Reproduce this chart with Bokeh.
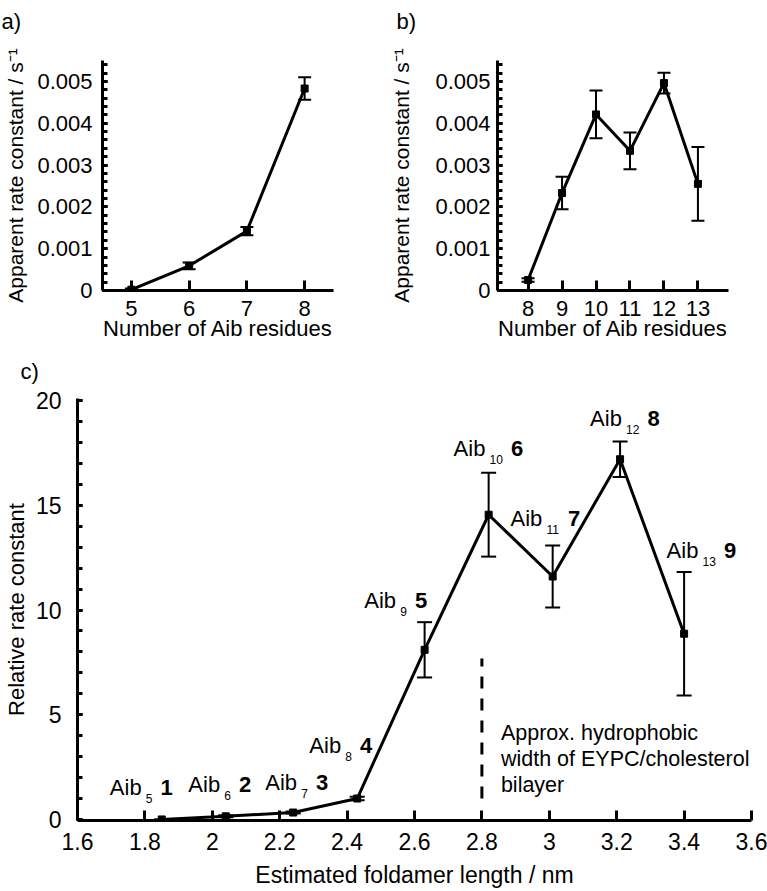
from bokeh.plotting import figure
from bokeh.models import FixedTicker, Range1d
from bokeh.layouts import column, row
from bokeh.embed import file_html
from bokeh.resources import INLINE
from bokeh.core.properties import value

FONT = "Liberation Sans"

# ---------------- data ----------------
# a) apparent rate constant vs number of Aib residues
a_residues = [5, 6, 7, 8]
a_rate = [0.00002, 0.00059, 0.00142, 0.00483]
a_err = [0.00003, 0.00008, 0.00010, 0.00027]

# b) apparent rate constant vs number of Aib residues
b_residues = [8, 9, 10, 11, 12, 13]
b_rate = [0.00025, 0.00233, 0.00421, 0.00334, 0.00496, 0.00255]
b_err = [0.00004, 0.00039, 0.00057, 0.00044, 0.00025, 0.00088]

# c) relative rate constant vs estimated foldamer length
c_length = [1.85, 2.04, 2.24, 2.43, 2.63, 2.82, 3.01, 3.21, 3.40]
c_rel = [0.0, 0.15, 0.33, 1.0, 8.1, 14.55, 11.6, 17.2, 8.87]
c_err = [0.0, 0.05, 0.05, 0.08, 1.32, 2.0, 1.48, 0.85, 2.95]
c_aib_sub = ["5", "6", "7", "8", "9", "10", "11", "12", "13"]
c_compound = ["1", "2", "3", "4", "5", "6", "7", "8", "9"]
# label anchors (data coordinates, left/baseline of "Aib")
c_label_x = [1.696, 1.929, 2.157, 2.288, 2.451, 2.716, 2.885, 3.121, 3.348]
c_label_y = [1.51, 1.69, 1.77, 3.51, 10.47, 17.72, 14.36, 19.15, 12.84]

bilayer_x = 2.8
bilayer_y0 = 1.0
bilayer_y1 = 7.68
note_lines = ["Approx. hydrophobic", "width of EYPC/cholesterol", "bilayer"]
note_y = 4.15

# ticks
ab_y_ticks = [0, 0.001, 0.002, 0.003, 0.004, 0.005]
ab_y_labels = ["0", "0.001", "0.002", "0.003", "0.004", "0.005"]
a_x_ticks = [5, 6, 7, 8]
a_x_labels = ["5", "6", "7", "8"]
b_x_ticks = [8, 9, 10, 11, 12, 13]
b_x_labels = ["8", "9", "10", "11", "12", "13"]
c_x_ticks = [1.6, 1.8, 2.0, 2.2, 2.4, 2.6, 2.8, 3.0, 3.2, 3.4, 3.6]
c_x_labels = ["1.6", "1.8", "2", "2.2", "2.4", "2.6", "2.8", "3", "3.2", "3.4", "3.6"]
c_y_ticks = [0, 5, 10, 15, 20]
c_y_labels = ["0", "5", "10", "15", "20"]

ab_ylabel = "Apparent rate constant / s\u207b\u00b9"
ab_xlabel = "Number of Aib residues"
c_ylabel = "Relative rate constant"
c_xlabel = "Estimated foldamer length / nm"

AB_X = {"a": (4.5, 8.5), "b": (7.1, 13.9)}
AB_Y = (0, 0.0055)
C_X = (1.6, 3.6)
C_Y = (-0.05, 20.1)


def style(p, fs, xt, xl, yt, yl, ymin, xstand, ystand, xlab, ylab, xls, yls, yfs, xfs):
    p.outline_line_color = None
    p.xgrid.visible = False
    p.ygrid.visible = False
    p.background_fill_color = "white"
    p.border_fill_color = "white"
    for ax in (p.xaxis[0], p.yaxis[0]):
        ax.axis_line_width = 3
        ax.axis_line_color = "black"
        ax.major_tick_out = 0
        ax.major_tick_line_width = 3
        ax.major_tick_line_color = "black"
        ax.minor_tick_out = 0
        ax.minor_tick_line_width = 3
        ax.minor_tick_line_color = "black"
        ax.major_label_text_font = FONT
        ax.major_label_text_font_size = fs
        ax.major_label_text_color = "black"
        ax.axis_label_text_font = FONT
        ax.axis_label_text_font_style = "normal"
        ax.axis_label_text_color = "black"
    p.xaxis.ticker = FixedTicker(ticks=xt, minor_ticks=[])
    p.xaxis.major_label_overrides = dict(zip(xt, xl))
    p.xaxis.major_tick_in = 10
    p.xaxis.major_label_standoff = xstand
    p.xaxis.axis_label = xlab
    p.xaxis.axis_label_standoff = xls
    p.xaxis.axis_label_text_font_size = xfs
    p.yaxis.ticker = FixedTicker(ticks=yt, minor_ticks=ymin)
    p.yaxis.major_label_overrides = dict(zip(yt, yl))
    p.yaxis.major_tick_in = 5
    p.yaxis.minor_tick_in = 5
    p.yaxis.major_label_standoff = ystand
    p.yaxis.axis_label = ylab
    p.yaxis.axis_label_standoff = yls
    p.yaxis.axis_label_text_font_size = yfs


def panel_title(p, offset, standoff):
    t = p.title
    t.align = "left"
    t.offset = offset
    t.standoff = standoff
    t.vertical_align = "top"
    t.text_font = FONT
    t.text_font_size = "22px"
    t.text_font_style = "normal"
    t.text_color = "black"


def series(p, x, y, e, cap):
    lo = [v - d for v, d in zip(y, e)]
    hi = [v + d for v, d in zip(y, e)]
    p.segment(x0=x, y0=lo, x1=x, y1=hi, line_width=2, line_color="black")
    p.scatter(x=list(x) + list(x), y=lo + hi, marker="dash", size=cap,
              line_width=2, line_color="black")
    p.line(x, y, line_width=3, line_color="black")
    p.scatter(x, y, marker="square", size=7, color="black")


ab_minor = [i * 0.0002 for i in range(28)]

# ---------------- panel a ----------------
pa = figure(width=380, height=345, x_range=Range1d(*AB_X["a"]), y_range=Range1d(*AB_Y),
            output_backend="svg", toolbar_location=None, title="a)\n",
            min_border_left=102, min_border_right=47, min_border_top=60, min_border_bottom=55)
style(pa, "22px", a_x_ticks, a_x_labels, ab_y_ticks, ab_y_labels, ab_minor, 10, 10,
      ab_xlabel, ab_ylabel, -3, 7, "21px", "22px")
panel_title(pa, -101, 0)
series(pa, a_residues, a_rate, a_err, 13)

# ---------------- panel b ----------------
pb = figure(width=387, height=345, x_range=Range1d(*AB_X["b"]), y_range=Range1d(*AB_Y),
            output_backend="svg", toolbar_location=None, title="b)\n",
            min_border_left=117, min_border_right=39, min_border_top=60, min_border_bottom=55)
style(pb, "22px", b_x_ticks, b_x_labels, ab_y_ticks, ab_y_labels, ab_minor, 10, 7,
      ab_xlabel, ab_ylabel, -3, 19, "21px", "22px")
panel_title(pb, -101, 0)
series(pb, b_residues, b_rate, b_err, 13)

# ---------------- panel c ----------------
pc = figure(width=767, height=545, x_range=Range1d(*C_X), y_range=Range1d(*C_Y),
            output_backend="svg", toolbar_location=None, title="c)",
            min_border_left=73, min_border_right=16, min_border_top=53, min_border_bottom=69)
style(pc, "23px", c_x_ticks, c_x_labels, c_y_ticks, c_y_labels, list(range(0, 21)), 12, 16,
      c_xlabel, c_ylabel, 9, 4, "22px", "23px")
panel_title(pc, -57, 26)
pc.segment(x0=[bilayer_x], y0=[bilayer_y0], x1=[bilayer_x], y1=[bilayer_y1],
           line_width=3, line_color="black", line_dash="12 10")
series(pc, c_length, c_rel, c_err, 15)

sub_dx = [36 for _ in c_aib_sub]
num_dx = [36 + 6.7 * len(s) + 8 for s in c_aib_sub]
pc.text(x=c_label_x, y=c_label_y, text=["Aib"] * len(c_label_x), text_font=value(FONT),
        text_font_size="22px", text_baseline="alphabetic", text_align="left", text_color="black")
pc.text(x=c_label_x, y=c_label_y, text=c_aib_sub, x_offset=sub_dx, y_offset=11,
        text_font=value(FONT), text_font_size="12px", text_baseline="alphabetic",
        text_align="left", text_color="black")
pc.text(x=c_label_x, y=c_label_y, text=c_compound, x_offset=num_dx, y_offset=0,
        text_font=value(FONT), text_font_size="22px", text_font_style="bold",
        text_baseline="alphabetic", text_align="left", text_color="black")
pc.text(x=[bilayer_x] * len(note_lines), y=[note_y] * len(note_lines), text=note_lines,
        x_offset=19, y_offset=[0, 26, 52], text_font=value(FONT), text_font_size="21.5px",
        text_baseline="alphabetic", text_align="left", text_color="black")

layout = column(row(pa, pb), pc)
open("out.html", "w").write(file_html(layout, INLINE))
